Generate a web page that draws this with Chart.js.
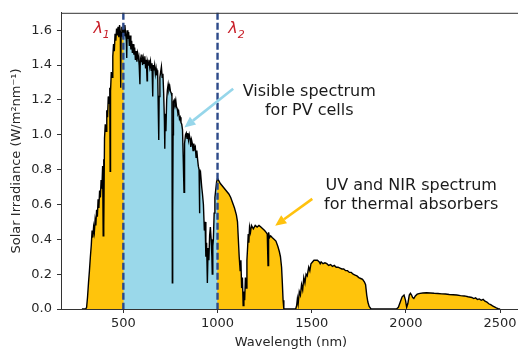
<!DOCTYPE html>
<html>
<head>
<meta charset="utf-8">
<script src="https://cdn.jsdelivr.net/npm/chart.js@4.4.1/dist/chart.umd.min.js"></script>
<style>
  html, body { margin: 0; padding: 0; background: #fff; overflow: hidden; }
  #wrap { position: relative; width: 518px; height: 351px; overflow: hidden; }
  canvas { position: absolute; left: 0; top: 0; }
</style>
</head>
<body>
<div id="wrap"><canvas id="spectrum" width="540" height="351"></canvas></div>
<script>
// Solar spectrum (nm, W/m2/nm)
const wavelength = [
  280, 300, 305, 310, 315, 320, 325, 330, 334, 338, 342, 346, 350, 354, 358, 362, 366, 370, 374, 378,
  382, 386, 390, 393, 395, 397, 400, 404, 408, 412, 416, 420, 424, 428, 430, 432, 436, 440, 444, 448,
  452, 456, 460, 464, 468, 472, 476, 480, 484, 486, 488, 492, 496, 500, 504, 508, 512, 516, 518, 520,
  524, 528, 532, 536, 540, 544, 548, 552, 556, 560, 564, 568, 572, 576, 580, 584, 588, 590, 594, 598,
  602, 606, 610, 614, 618, 622, 626, 628, 632, 636, 640, 644, 648, 652, 656, 658, 662, 666, 670, 674,
  678, 682, 686, 688, 690, 694, 698, 702, 706, 710, 714, 718, 720, 722, 726, 730, 734, 738, 742, 746,
  750, 754, 758, 760, 762, 764, 766, 770, 774, 778, 782, 786, 790, 794, 798, 802, 806, 810, 814, 818,
  820, 822, 824, 826, 830, 834, 838, 842, 846, 850, 854, 858, 862, 866, 870, 874, 878, 882, 886, 890,
  894, 898, 902, 904, 906, 910, 916, 920, 925, 930, 934, 938, 942, 946, 950, 954, 958, 962, 966, 970,
  972, 975, 978, 982, 986, 990, 995, 1000, 1005, 1015, 1030, 1045, 1060, 1070, 1080, 1090, 1100, 1106, 1110, 1115,
  1120, 1124, 1128, 1132, 1136, 1140, 1144, 1148, 1152, 1156, 1160, 1163, 1166, 1170, 1175, 1180, 1190, 1200, 1210, 1220,
  1230, 1240, 1250, 1258, 1264, 1268, 1271, 1276, 1282, 1290, 1300, 1310, 1320, 1328, 1334, 1340, 1344, 1348, 1352, 1415,
  1420, 1424, 1428, 1434, 1440, 1446, 1452, 1458, 1464, 1470, 1476, 1484, 1490, 1496, 1504, 1512, 1520, 1530, 1540, 1545,
  1550, 1560, 1570, 1580, 1590, 1600, 1610, 1620, 1630, 1640, 1650, 1660, 1670, 1680, 1690, 1700, 1710, 1720, 1730, 1740,
  1750, 1760, 1770, 1780, 1786, 1792, 1798, 1805, 1815, 1950, 1960, 1970, 1980, 1990, 1998, 2004, 2010, 2018, 2024, 2030,
  2036, 2042, 2050, 2060, 2075, 2090, 2110, 2130, 2150, 2170, 2190, 2210, 2230, 2250, 2270, 2290, 2310, 2330, 2350, 2360,
  2370, 2380, 2390, 2400, 2410, 2420, 2430, 2440, 2450, 2460, 2470, 2480, 2490, 2500
];
const irradiance = [
  0, 0, 0.01, 0.07, 0.15, 0.22, 0.30, 0.37, 0.45, 0.41, 0.47, 0.44, 0.51, 0.48, 0.57, 0.53, 0.63, 0.58, 0.68, 0.64,
  0.74, 0.69, 0.82, 0.42, 0.86, 0.47, 0.98, 1.06, 1.02, 1.14, 1.10, 1.22, 1.18, 1.27, 0.79, 1.25, 1.36, 1.33, 1.45, 1.52,
  1.48, 1.58, 1.54, 1.61, 1.57, 1.62, 1.56, 1.63, 1.59, 1.27, 1.58, 1.62, 1.56, 1.61, 1.57, 1.63, 1.58, 1.54, 1.44, 1.60,
  1.55, 1.59, 1.51, 1.57, 1.49, 1.54, 1.47, 1.52, 1.46, 1.50, 1.43, 1.48, 1.42, 1.47, 1.45, 1.40, 1.29, 1.44, 1.42, 1.46,
  1.40, 1.44, 1.41, 1.45, 1.38, 1.43, 1.31, 1.42, 1.40, 1.43, 1.39, 1.42, 1.37, 1.41, 1.22, 1.40, 1.37, 1.40, 1.35, 1.38,
  1.34, 1.37, 1.10, 0.97, 1.22, 1.33, 1.36, 1.39, 1.33, 1.35, 1.24, 1.08, 0.92, 1.12, 1.02, 1.20, 1.26, 1.29, 1.26, 1.28,
  1.25, 1.24, 1.22, 0.15, 0.55, 1.00, 1.19, 1.20, 1.18, 1.20, 1.16, 1.15, 1.12, 1.13, 1.09, 1.10, 1.07, 1.06, 1.03, 0.86,
  0.76, 0.67, 0.82, 0.95, 1.00, 1.01, 0.98, 1.01, 0.97, 1.00, 0.98, 0.93, 0.97, 0.95, 0.91, 0.95, 0.92, 0.93, 0.87, 0.91,
  0.86, 0.82, 0.80, 0.55, 0.76, 0.78, 0.70, 0.66, 0.60, 0.45, 0.50, 0.30, 0.38, 0.15, 0.35, 0.28, 0.42, 0.47, 0.40, 0.30,
  0.20, 0.36, 0.40, 0.55, 0.64, 0.68, 0.73, 0.75, 0.74, 0.72, 0.70, 0.68, 0.66, 0.64, 0.61, 0.58, 0.54, 0.50, 0.41, 0.30,
  0.22, 0.28, 0.12, 0.18, 0.02, 0.10, 0.05, 0.18, 0.12, 0.28, 0.36, 0.43, 0.38, 0.47, 0.44, 0.48, 0.46, 0.48, 0.47, 0.48,
  0.47, 0.46, 0.45, 0.44, 0.43, 0.25, 0.44, 0.41, 0.42, 0.41, 0.40, 0.39, 0.36, 0.33, 0.30, 0.24, 0.15, 0.05, 0, 0,
  0.02, 0.06, 0.03, 0.10, 0.08, 0.14, 0.11, 0.18, 0.15, 0.20, 0.19, 0.24, 0.22, 0.26, 0.27, 0.28, 0.28, 0.28, 0.27, 0.26,
  0.27, 0.26, 0.265, 0.26, 0.25, 0.255, 0.245, 0.25, 0.24, 0.24, 0.235, 0.23, 0.23, 0.22, 0.22, 0.21, 0.21, 0.20, 0.195, 0.19,
  0.18, 0.175, 0.17, 0.155, 0.14, 0.08, 0.04, 0.015, 0, 0, 0.01, 0.04, 0.07, 0.08, 0.05, 0.01, 0.03, 0.08, 0.09, 0.08,
  0.065, 0.06, 0.075, 0.085, 0.09, 0.092, 0.093, 0.092, 0.09, 0.089, 0.087, 0.086, 0.083, 0.082, 0.08, 0.077, 0.075, 0.07, 0.066, 0.06,
  0.064, 0.055, 0.058, 0.05, 0.055, 0.045, 0.04, 0.03, 0.025, 0.018, 0.012, 0.006, 0.002, 0
];

const xTicks = [500, 1000, 1500, 2000, 2500];
const yTicks = [0, 0.2, 0.4, 0.6, 0.8, 1.0, 1.2, 1.4, 1.6];
const lambdaCuts = [500, 1000];   // lambda1, lambda2

const spectrum = wavelength.map((w, i) => ({ x: w, y: irradiance[i] }));
const visible = spectrum.filter(p => p.x >= lambdaCuts[0] && p.x <= lambdaCuts[1]);

const FONT = "'DejaVu Sans', Verdana, sans-serif";
const INK = '#262626';

// text and arrows placed in data units
const lambdaLabels = [
  { sub: '1', x: 341, y: 1.585 },
  { sub: '2', x: 1057, y: 1.585 }
];
const notes = [
  { lines: ['Visible spectrum', 'for PV cells'], x: 1487, y: 1.247 },
  { lines: ['UV and NIR spectrum', 'for thermal absorbers'], x: 2028, y: 0.706 }
];
const arrows = [
  { from: [1083, 1.264], to: [824, 1.042], color: '#96d6ea' },
  { from: [1503, 0.632], to: [1306, 0.478], color: '#ffc20e' }
];

const drawArrow = (ctx, x1, y1, x2, y2, color) => {
  const ang = Math.atan2(y2 - y1, x2 - x1);
  const len = 11, half = 5;
  const bx = x2 - len * Math.cos(ang), by = y2 - len * Math.sin(ang);
  ctx.strokeStyle = color;
  ctx.fillStyle = color;
  ctx.lineWidth = 2.6;
  ctx.beginPath();
  ctx.moveTo(x1, y1);
  ctx.lineTo(bx, by);
  ctx.stroke();
  ctx.beginPath();
  ctx.moveTo(x2, y2);
  ctx.lineTo(bx + half * Math.sin(ang), by - half * Math.cos(ang));
  ctx.lineTo(bx - half * Math.sin(ang), by + half * Math.cos(ang));
  ctx.closePath();
  ctx.fill();
};

const decorations = {
  id: 'decorations',
  afterDatasetsDraw(chart) {
    const { ctx, chartArea: area, scales: { x, y } } = chart;
    ctx.save();

    // dashed cut-off lines
    ctx.strokeStyle = '#2c4a8a';
    ctx.lineWidth = 2.4;
    ctx.setLineDash([7, 3]);
    lambdaCuts.forEach(v => {
      const px = x.getPixelForValue(v);
      ctx.beginPath();
      ctx.moveTo(px, area.top);
      ctx.lineTo(px, area.bottom);
      ctx.stroke();
    });
    ctx.setLineDash([]);

    // frame top / right
    ctx.strokeStyle = '#333';
    ctx.lineWidth = 1;
    ctx.beginPath();
    ctx.moveTo(area.left, area.top + 0.5);
    ctx.lineTo(area.right, area.top + 0.5);
    ctx.lineTo(area.right, area.bottom);
    ctx.stroke();

    // lambda labels
    ctx.fillStyle = '#c8202a';
    ctx.textBaseline = 'alphabetic';
    ctx.textAlign = 'left';
    lambdaLabels.forEach(l => {
      const px = x.getPixelForValue(l.x), py = y.getPixelForValue(l.y);
      ctx.font = 'italic 16px ' + FONT;
      ctx.fillText('λ', px, py);
      const w = ctx.measureText('λ').width;
      ctx.font = 'italic 11px ' + FONT;
      ctx.fillText(l.sub, px + w, py + 5);
    });

    // notes
    ctx.fillStyle = '#1a1a1a';
    ctx.font = '16px ' + FONT;
    ctx.textAlign = 'center';
    ctx.textBaseline = 'middle';
    notes.forEach(n => {
      const px = x.getPixelForValue(n.x), py = y.getPixelForValue(n.y);
      n.lines.forEach((t, i) => ctx.fillText(t, px, py + i * 19));
    });

    arrows.forEach(a => {
      drawArrow(ctx,
        x.getPixelForValue(a.from[0]), y.getPixelForValue(a.from[1]),
        x.getPixelForValue(a.to[0]), y.getPixelForValue(a.to[1]), a.color);
    });
    ctx.restore();
  }
};

new Chart(document.getElementById('spectrum'), {
  type: 'line',
  data: {
    datasets: [
      {
        data: spectrum,
        borderColor: '#000',
        borderWidth: 1.4,
        pointRadius: 0,
        fill: false,
        order: 1
      },
      {
        data: visible,
        borderWidth: 0,
        borderColor: 'rgba(0,0,0,0)',
        pointRadius: 0,
        fill: 'origin',
        backgroundColor: '#9ad8ea',
        order: 2
      },
      {
        data: spectrum,
        borderWidth: 0,
        borderColor: 'rgba(0,0,0,0)',
        pointRadius: 0,
        fill: 'origin',
        backgroundColor: '#ffc40c',
        order: 3
      }
    ]
  },
  options: {
    responsive: false,
    animation: false,
    events: [],
    layout: { padding: { left: 0, top: 11, right: 19, bottom: 0 } },
    plugins: { legend: { display: false }, tooltip: { enabled: false } },
    elements: { line: { tension: 0 } },
    scales: {
      x: {
        type: 'linear',
        min: 169,
        max: 2611,
        afterBuildTicks: s => { s.ticks = xTicks.map(v => ({ value: v })); },
        afterFit: s => { s.height = 42; },
        ticks: { color: INK, font: { family: FONT, size: 13 }, padding: 3, maxRotation: 0,
                 callback: v => String(v) },
        grid: { drawOnChartArea: false, drawTicks: true, tickLength: 4, tickColor: '#333' },
        border: { display: true, color: '#333', width: 1 },
        title: { display: true, text: 'Wavelength (nm)', color: INK,
                 font: { family: FONT, size: 13 }, padding: { top: 0, bottom: 1 } }
      },
      y: {
        type: 'linear',
        min: 0,
        max: 1.7,
        afterBuildTicks: s => { s.ticks = yTicks.map(v => ({ value: v })); },
        afterFit: s => { s.width = 61; },
        ticks: { color: INK, font: { family: FONT, size: 13 }, padding: 5,
                 callback: v => v.toFixed(1) },
        grid: { drawOnChartArea: false, drawTicks: true, tickLength: 4, tickColor: '#333' },
        border: { display: true, color: '#333', width: 1 },
        title: { display: true, text: 'Solar Irradiance (W/m²nm⁻¹)', color: INK,
                 font: { family: FONT, size: 13 }, padding: { top: 9, bottom: 0 } }
      }
    }
  },
  plugins: [decorations]
});
</script>
</body>
</html>
